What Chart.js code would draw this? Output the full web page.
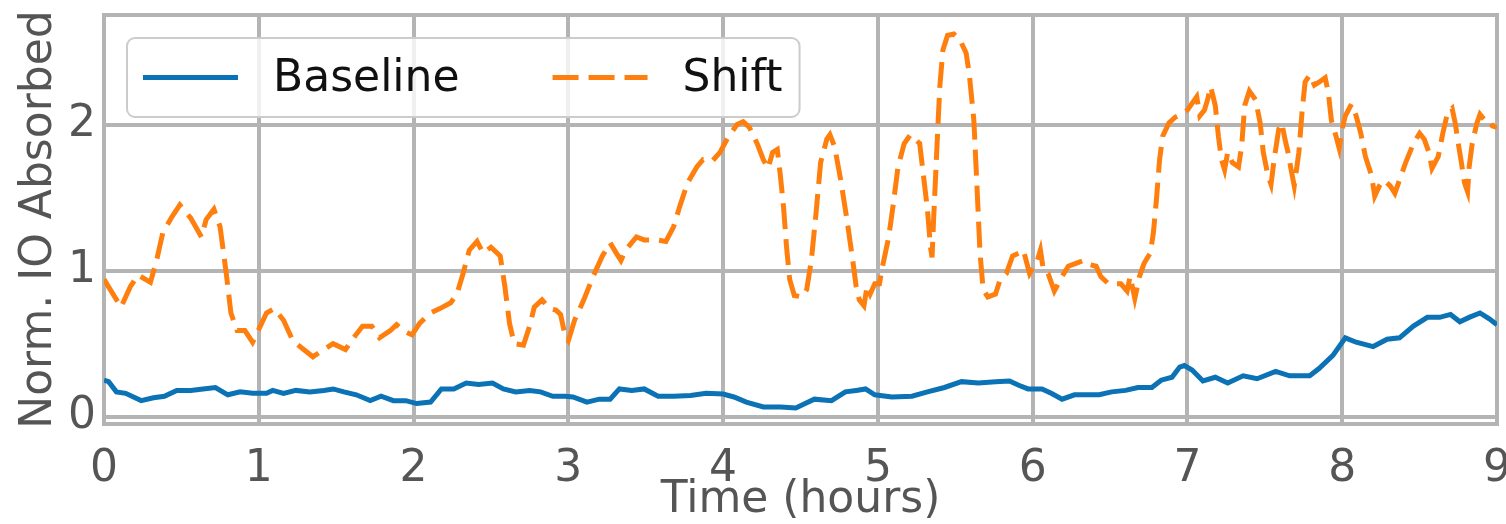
<!DOCTYPE html>
<html><head><meta charset="utf-8">
<script src="https://cdn.jsdelivr.net/npm/chart.js@4.4.0/dist/chart.umd.min.js"></script>
<style>html,body{margin:0;padding:0;background:#fff;overflow:hidden}</style>
</head><body>
<canvas id="c" width="1506" height="524"></canvas>
<script>
const xTicks = [0,1,2,3,4,5,6,7,8,9];
const yTicks = [0,1,2];
const seriesNames = ['Baseline','Shift'];
const xTitle = 'Time (hours)';
const yTitle = 'Norm. IO Absorbed';

const baselineTime = [0.00,0.03,0.08,0.14,0.24,0.32,0.39,0.47,0.56,0.64,
0.72,0.80,0.88,0.96,1.05,1.09,1.16,1.24,1.33,1.42,
1.48,1.55,1.63,1.72,1.79,1.87,1.95,2.02,2.11,2.18,
2.26,2.34,2.42,2.51,2.58,2.66,2.75,2.82,2.90,2.98,
3.03,3.12,3.20,3.27,3.33,3.41,3.49,3.58,3.68,3.79,
3.89,4.00,4.07,4.15,4.26,4.37,4.47,4.53,4.59,4.70,
4.79,4.86,4.92,4.98,5.09,5.22,5.32,5.43,5.54,5.65,
5.76,5.85,5.91,5.97,6.06,6.12,6.19,6.27,6.36,6.43,
6.51,6.60,6.68,6.77,6.83,6.90,6.95,6.98,7.03,7.10,
7.18,7.26,7.36,7.45,7.57,7.66,7.79,7.85,7.94,8.02,
8.09,8.20,8.29,8.37,8.46,8.55,8.63,8.70,8.76,8.82,
8.89,8.95,9.00];
const baselineValues = [0.25,0.24,0.17,0.16,0.11,0.13,0.14,0.18,0.18,0.19,
0.20,0.15,0.17,0.16,0.16,0.18,0.16,0.18,0.17,0.18,
0.19,0.17,0.15,0.11,0.14,0.11,0.11,0.09,0.10,0.19,
0.19,0.23,0.22,0.23,0.19,0.17,0.18,0.17,0.14,0.14,
0.135,0.10,0.12,0.12,0.19,0.18,0.19,0.14,0.14,0.145,
0.16,0.155,0.135,0.10,0.067,0.067,0.06,0.09,0.12,0.11,
0.17,0.18,0.19,0.15,0.135,0.14,0.17,0.20,0.24,0.23,
0.24,0.245,0.215,0.19,0.19,0.16,0.12,0.15,0.15,0.15,
0.17,0.18,0.20,0.20,0.25,0.27,0.34,0.35,0.32,0.245,
0.27,0.23,0.28,0.26,0.31,0.28,0.28,0.33,0.42,0.54,
0.51,0.48,0.53,0.54,0.62,0.68,0.68,0.70,0.65,0.68,
0.71,0.67,0.63];

const shiftTime = [0.00,0.11,0.17,0.22,0.30,0.34,0.38,0.44,0.49,0.56,
0.63,0.66,0.71,0.75,0.79,0.82,0.86,0.91,0.96,1.01,
1.05,1.10,1.16,1.22,1.29,1.35,1.42,1.48,1.56,1.62,
1.67,1.73,1.78,1.85,1.89,1.93,1.99,2.04,2.11,2.17,
2.24,2.28,2.32,2.36,2.41,2.45,2.50,2.56,2.59,2.62,
2.65,2.71,2.75,2.78,2.83,2.88,2.92,2.95,2.98,3.00,
3.04,3.10,3.16,3.22,3.27,3.31,3.34,3.37,3.44,3.49,
3.57,3.63,3.68,3.72,3.77,3.83,3.87,3.93,3.98,4.03,
4.09,4.13,4.17,4.22,4.26,4.29,4.32,4.35,4.37,4.39,
4.41,4.43,4.46,4.51,4.54,4.57,4.60,4.63,4.67,4.69,
4.72,4.76,4.80,4.84,4.86,4.88,4.91,4.93,4.95,4.98,
5.01,5.03,5.07,5.10,5.13,5.17,5.21,5.24,5.27,5.29,
5.32,5.34,5.35,5.36,5.38,5.40,5.42,5.45,5.49,5.53,
5.57,5.59,5.62,5.64,5.66,5.68,5.71,5.76,5.79,5.83,
5.87,5.91,5.94,5.98,6.03,6.05,6.07,6.10,6.14,6.19,
6.23,6.28,6.33,6.37,6.41,6.44,6.49,6.53,6.57,6.61,
6.63,6.66,6.69,6.72,6.76,6.78,6.80,6.82,6.84,6.88,
6.92,6.96,7.00,7.04,7.06,7.08,7.11,7.13,7.15,7.18,
7.20,7.22,7.24,7.26,7.29,7.33,7.35,7.37,7.40,7.44,
7.47,7.49,7.52,7.54,7.56,7.59,7.61,7.63,7.65,7.67,
7.69,7.72,7.74,7.76,7.79,7.82,7.85,7.89,7.91,7.93,
7.96,7.98,8.00,8.02,8.06,8.09,8.12,8.15,8.19,8.21,
8.24,8.27,8.31,8.34,8.37,8.41,8.46,8.50,8.53,8.56,
8.58,8.62,8.65,8.68,8.71,8.73,8.75,8.77,8.79,8.81,
8.82,8.84,8.87,8.89,8.92,8.95,8.97,9.00];
const shiftValues = [0.94,0.75,0.89,0.97,0.92,1.07,1.26,1.37,1.45,1.36,
1.23,1.35,1.42,1.30,0.98,0.71,0.59,0.59,0.51,0.62,
0.71,0.74,0.66,0.52,0.46,0.41,0.46,0.50,0.46,0.55,
0.62,0.62,0.54,0.59,0.63,0.59,0.56,0.64,0.71,0.74,
0.78,0.84,0.98,1.14,1.20,1.12,1.16,1.10,0.89,0.64,
0.50,0.49,0.62,0.75,0.80,0.74,0.73,0.70,0.55,0.52,
0.66,0.80,0.96,1.10,1.19,1.12,1.07,1.14,1.23,1.21,
1.21,1.20,1.30,1.44,1.60,1.71,1.76,1.75,1.81,1.91,
2.00,2.02,1.98,1.87,1.76,1.70,1.81,1.83,1.65,1.44,
1.16,0.94,0.83,0.82,0.87,1.07,1.39,1.74,1.90,1.93,
1.85,1.62,1.35,1.05,0.89,0.80,0.76,0.89,0.84,0.91,
0.91,1.03,1.23,1.46,1.71,1.87,1.93,1.90,1.87,1.69,
1.42,1.16,1.09,1.35,1.81,2.26,2.51,2.61,2.62,2.58,
2.49,2.35,2.03,1.58,1.12,0.87,0.82,0.84,0.94,0.98,
1.10,1.12,1.14,0.98,1.07,1.14,1.00,0.98,0.86,0.96,
1.03,1.05,1.07,1.04,1.03,0.96,0.91,0.91,0.91,0.86,
0.96,0.81,0.96,1.05,1.12,1.26,1.49,1.76,1.92,2.01,
2.05,2.07,2.10,2.16,2.19,2.06,2.10,2.17,2.26,2.13,
1.92,1.76,1.69,1.81,1.74,1.71,1.85,2.13,2.23,2.17,
2.01,1.81,1.65,1.59,1.76,1.97,2.01,1.90,1.81,1.69,
1.58,1.81,2.08,2.29,2.34,2.27,2.29,2.32,2.22,2.03,
1.92,1.84,1.97,2.06,2.14,2.06,1.94,1.78,1.65,1.51,
1.58,1.62,1.58,1.53,1.62,1.74,1.87,1.94,1.90,1.81,
1.70,1.78,1.94,2.08,2.11,2.01,1.87,1.74,1.60,1.54,
1.71,1.87,2.01,2.07,2.03,2.03,1.99,1.98];

const seriesColors = ['#0a72b5','#ff7f0e'];
const GRID = '#b4b4b4';
const TXT = '#555555';
const FONT = 'DejaVu Sans';

function zip(t, v){ const n=Math.min(t.length,v.length); const out=[]; for(let i=0;i<n;i++) out.push({x:t[i],y:v[i]}); return out; }

Chart.defaults.font.family = FONT;

const framePlugin = {
  id:'frame',
  beforeDatasetsDraw(chart){
    const {ctx, chartArea:a} = chart;
    ctx.save();
    ctx.strokeStyle = GRID; ctx.lineWidth = 4;
    ctx.strokeRect(a.left, a.top, a.right-a.left, a.bottom-a.top);
    ctx.restore();
  }
};

const legendPlugin = {
  id:'inLegend',
  afterDatasetsDraw(chart){
    const {ctx, chartArea:a} = chart;
    const ds = chart.data.datasets;
    const fs = 44;
    ctx.save();
    ctx.font = fs + 'px "' + FONT + '"';
    const pad = 16, handle = 95, hgap = 35, igap = 93;
    let w = pad;
    const widths = ds.map(d => ctx.measureText(d.label).width);
    ds.forEach((d,i) => { w += handle + hgap + widths[i] + (i < ds.length-1 ? igap : 17); });
    const bx = a.left + 23, by = a.top + 23, bh = 79, r = 8;
    ctx.beginPath();
    ctx.moveTo(bx+r, by); ctx.lineTo(bx+w-r, by); ctx.arcTo(bx+w, by, bx+w, by+r, r);
    ctx.lineTo(bx+w, by+bh-r); ctx.arcTo(bx+w, by+bh, bx+w-r, by+bh, r);
    ctx.lineTo(bx+r, by+bh); ctx.arcTo(bx, by+bh, bx, by+bh-r, r);
    ctx.lineTo(bx, by+r); ctx.arcTo(bx, by, bx+r, by, r); ctx.closePath();
    ctx.fillStyle = 'rgba(255,255,255,0.8)'; ctx.fill();
    ctx.strokeStyle = '#cccccc'; ctx.lineWidth = 2; ctx.stroke();
    let x = bx + pad;
    const cy = by + bh/2;
    ds.forEach((d,i) => {
      ctx.beginPath();
      ctx.setLineDash(d.borderDash || []);
      ctx.strokeStyle = d.borderColor; ctx.lineWidth = d.borderWidth;
      ctx.moveTo(x, cy); ctx.lineTo(x+handle, cy); ctx.stroke();
      ctx.setLineDash([]);
      ctx.fillStyle = '#111111'; ctx.textBaseline = 'middle'; ctx.textAlign = 'left';
      ctx.fillText(d.label, x + handle + hgap, cy + 2);
      x += handle + hgap + widths[i] + igap;
    });
    ctx.restore();
  }
};

new Chart(document.getElementById('c'), {
  type:'line',
  data:{
    datasets:[
      {label:seriesNames[0], data:zip(baselineTime, baselineValues), borderColor:seriesColors[0], borderWidth:5, pointRadius:0, tension:0, fill:false},
      {label:seriesNames[1], data:zip(shiftTime, shiftValues), borderColor:seriesColors[1], borderWidth:5, borderDash:[26,10], pointRadius:0, tension:0, fill:false}
    ]
  },
  options:{
    responsive:false, animation:false, devicePixelRatio:1,
    layout:{padding:{left:0,right:9,top:15,bottom:0}},
    plugins:{legend:{display:false}, tooltip:{enabled:false}},
    scales:{
      x:{type:'linear', min:0, max:9,
        afterBuildTicks(s){ s.ticks = xTicks.map(v=>({value:v})); },
        afterFit(s){ s.height = 100; s.paddingLeft = 0; s.paddingRight = 0; },
        grid:{color:GRID, lineWidth:4, drawTicks:false},
        border:{display:false},
        ticks:{color:TXT, font:{size:44}, padding:19, maxRotation:0, autoSkip:false},
        title:{display:true, text:xTitle, color:TXT, font:{size:44, lineHeight:1.0}, padding:{top:0,bottom:1}}
      },
      y:{type:'linear', min:-0.05, max:2.75,
        afterBuildTicks(s){ s.ticks = yTicks.map(v=>({value:v})); },
        afterFit(s){ s.width = 104; s.paddingTop = 0; s.paddingBottom = 0; },
        grid:{color:GRID, lineWidth:4, drawTicks:false},
        border:{display:false},
        ticks:{color:TXT, font:{size:44}, padding:8},
        title:{display:true, text:yTitle, color:TXT, font:{size:44}, padding:{top:13,bottom:0}}
      }
    }
  },
  plugins:[framePlugin, legendPlugin]
});
</script>
</body></html>
